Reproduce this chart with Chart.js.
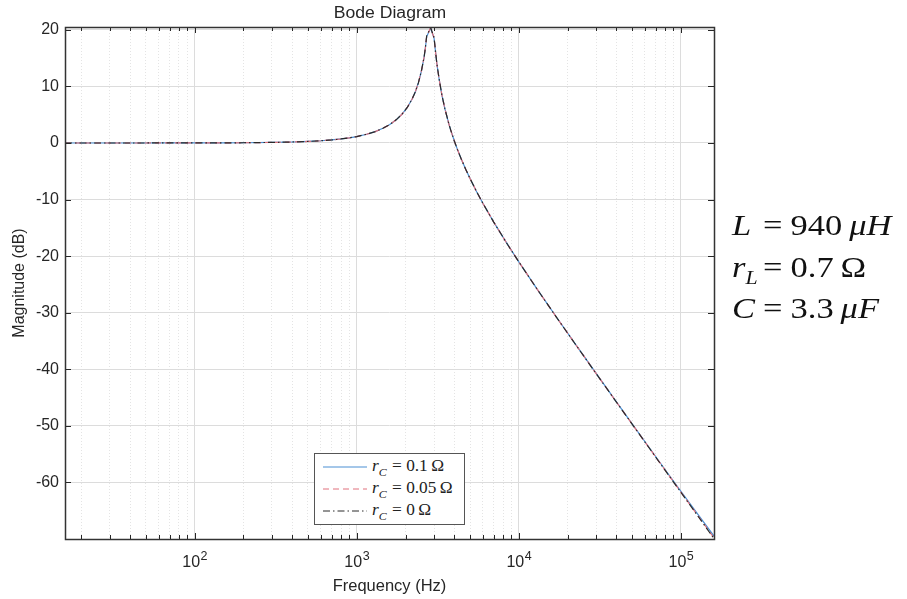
<!DOCTYPE html>
<html>
<head>
<meta charset="utf-8">
<script src="https://cdn.jsdelivr.net/npm/chart.js@4.4.1/dist/chart.umd.min.js"></script>
<style>
  body { margin:0; background:#fff; }
  #wrap { position:relative; width:907px; height:599px; background:#fff; overflow:hidden; }
  #c { position:absolute; left:0; top:0; }
  #title { position:absolute; left:289.5px; top:4px; width:200px; text-align:center;
           font-family:"Liberation Sans",Arial,sans-serif; font-size:16px; color:#262626; transform:scaleX(1.1); }
  #legend { position:absolute; left:314px; top:453px; width:149px; height:70px; border:1px solid #555;
            background:#fff; font-family:"Liberation Serif","DejaVu Serif",serif; font-size:16px; color:#222; }
  .row { position:absolute; left:8px; height:22px; display:flex; align-items:center; white-space:nowrap; }
  .row svg { margin-right:5px; }
  .row .txt { display:inline-block; transform-origin:0 50%; transform:scaleX(1.08); }
  .row sub { font-size:11px; position:relative; top:1px; }
  .rel { margin:0 4px 0 5px; }
  #params { position:absolute; left:732px; top:0; font-family:"Liberation Serif","DejaVu Serif",serif;
            font-size:30px; line-height:42px; color:#111; white-space:nowrap; transform-origin:0 0; transform:scaleX(1.15); }
  .prow { position:absolute; left:0; display:flex; align-items:baseline; }
  .lhs { display:inline-block; width:27px; }
  .eq { display:inline-block; margin-right:7px; }
  .psub { font-size:19px; position:relative; top:7px; line-height:0; }
</style>
</head>
<body>
<div id="wrap">
  <canvas id="c" width="907" height="599" style="width:907px;height:599px"></canvas>
  <div id="title">Bode Diagram</div>
  <div id="legend"></div>
  <div id="params">
    <div class="prow" style="top:204px"><span class="lhs"><i>L</i></span><span class="eq">=</span><span>940&#8201;<i>μH</i></span></div>
    <div class="prow" style="top:246px"><span class="lhs"><i>r</i><span class="psub"><i>L</i></span></span><span class="eq">=</span><span>0.7&#8201;Ω</span></div>
    <div class="prow" style="top:287px"><span class="lhs"><i>C</i></span><span class="eq">=</span><span>3.3&#8201;<i>μF</i></span></div>
  </div>
</div>
<script>
// ---- data ----
const freqHz = [15.85, 20, 30, 50, 70, 100, 150, 200, 300, 400, 500, 600, 700, 800, 900,
  1000, 1150, 1300, 1450, 1600, 1750, 1900, 2050, 2200, 2300, 2400, 2500, 2600, 2650, 2700, 2857,
  3000, 3060, 3120, 3220, 3350, 3500, 3700, 3800, 4000, 4200, 4400, 4700, 5000, 5500, 6000, 7000, 8500,
  10000, 13000, 17000, 22000, 30000, 40000, 50000, 65000, 80000, 100000, 125000, 160000];

const magRc0 = [0, 0, 0, 0, 0.01, 0.01, 0.02, 0.04, 0.10, 0.17, 0.27, 0.39, 0.54, 0.71, 0.91,
  1.13, 1.54, 2.01, 2.59, 3.27, 4.09, 5.07, 6.28, 7.81, 9.07, 10.62, 12.60, 15.09, 16.78, 18.9, 20.4,
  18.6, 16.27, 14.07, 11.37, 8.52, 6.01, 3.39, 2.28, 0.35, -1.30, -2.75, -4.64, -6.29, -8.65, -10.66, -13.98, -17.90,
  -21.02, -25.89, -30.73, -35.31, -40.77, -45.80, -49.69, -54.26, -57.88, -61.76, -65.63, -69.93];

const magRc005 = [0, 0, 0, 0, 0.01, 0.01, 0.02, 0.04, 0.10, 0.17, 0.27, 0.39, 0.54, 0.71, 0.91,
  1.13, 1.54, 2.01, 2.59, 3.27, 4.09, 5.07, 6.28, 7.81, 9.07, 10.62, 12.60, 15.08, 16.76, 18.85, 20.35,
  18.55, 16.25, 14.05, 11.36, 8.52, 6.01, 3.39, 2.28, 0.35, -1.30, -2.75, -4.64, -6.29, -8.65, -10.66, -13.98, -17.90,
  -21.02, -25.89, -30.73, -35.30, -40.76, -45.79, -49.68, -54.24, -57.85, -61.71, -65.56, -69.81];

const magRc01 = [0, 0, 0, 0, 0.01, 0.01, 0.02, 0.04, 0.10, 0.17, 0.27, 0.39, 0.54, 0.71, 0.91,
  1.13, 1.54, 2.01, 2.59, 3.27, 4.09, 5.07, 6.28, 7.81, 9.07, 10.62, 12.59, 15.06, 16.73, 18.8, 20.3,
  18.5, 16.22, 14.02, 11.35, 8.51, 6.01, 3.39, 2.28, 0.35, -1.30, -2.75, -4.64, -6.29, -8.65, -10.66, -13.98, -17.89,
  -21.01, -25.88, -30.72, -35.29, -40.74, -45.77, -49.64, -54.18, -57.76, -61.58, -65.35, -69.48];

const seriesRc = ['0.1', '0.05', '0'];
const yTickValues = [-60, -50, -40, -30, -20, -10, 0, 10, 20];
const xTickValues = [100, 1000, 10000, 100000];
const xTickBase = ['10', '10', '10', '10'];
const xTickExp = ['2', '3', '4', '5'];
const xMinorValues = [20,30,40,50,60,70,80,90, 200,300,400,500,600,700,800,900,
  2000,3000,4000,5000,6000,7000,8000,9000, 20000,30000,40000,50000,60000,70000,80000,90000];

// ---- styling ----
const seriesColors = ['#4b8fd3', '#e0707c', '#2a2a2a'];
const seriesDash = [[], [6, 4], [7, 3, 1.5, 3]];
const seriesOrder = [2, 1, 0];
const seriesMags = [magRc01, magRc005, magRc0];

const datasets = seriesMags.map((mags, i) => ({
  label: 'r_C = ' + seriesRc[i] + ' Ω',
  data: freqHz.map((f, k) => ({ x: f, y: mags[k] })),
  borderColor: seriesColors[i],
  borderDash: seriesDash[i],
  borderWidth: 1.2,
  order: seriesOrder[i],
  pointRadius: 0,
  fill: false,
  tension: 0
}));

// legend (HTML, for the subscripts)
const legend = document.getElementById('legend');
seriesRc.forEach((v, i) => {
  const row = document.createElement('div');
  row.className = 'row';
  row.style.top = (2 + i * 22) + 'px';
  const dash = seriesDash[i].length ? seriesDash[i].join(' ') : 'none';
  row.innerHTML = '<svg width="44" height="10"><line x1="0" y1="5" x2="44" y2="5" stroke="' + seriesColors[i] +
    '" stroke-width="1" stroke-dasharray="' + dash + '"/></svg>' +
    '<span class="txt"><i>r</i><sub><i>C</i></sub><span class="rel">=</span>' + v + '&#8201;Ω</span>';
  legend.appendChild(row);
});

const axisColor = '#262626';

const framePlugin = {
  id: 'frame',
  afterDraw(chart) {
    const { ctx, chartArea: { left, right, top, bottom }, scales } = chart;
    ctx.save();
    ctx.strokeStyle = axisColor;
    ctx.lineWidth = 1;
    ctx.beginPath();
    yTickValues.forEach(v => {
      const py = Math.round(scales.y.getPixelForValue(v)) + 0.5;
      ctx.moveTo(left, py); ctx.lineTo(left + 6, py);
      ctx.moveTo(right, py); ctx.lineTo(right - 6, py);
    });
    xTickValues.forEach(v => {
      const px = Math.round(scales.x.getPixelForValue(v)) + 0.5;
      ctx.moveTo(px, bottom); ctx.lineTo(px, bottom - 6);
      ctx.moveTo(px, top); ctx.lineTo(px, top + 6);
    });
    xMinorValues.forEach(v => {
      const px = Math.round(scales.x.getPixelForValue(v)) + 0.5;
      if (px < left || px > right) return;
      ctx.moveTo(px, bottom); ctx.lineTo(px, bottom - 4);
      ctx.moveTo(px, top); ctx.lineTo(px, top + 4);
    });
    ctx.stroke();
    ctx.strokeStyle = '#333';
    ctx.lineWidth = 1.5;
    ctx.strokeRect(Math.round(left) + 0.5, Math.round(top) + 0.5, Math.round(right - left), Math.round(bottom - top));

    // x tick labels with superscript exponents
    ctx.fillStyle = axisColor;
    ctx.textBaseline = 'alphabetic';
    ctx.textAlign = 'left';
    const baseFont = '16px "Liberation Sans", Arial, sans-serif';
    const expFont = '12.5px "Liberation Sans", Arial, sans-serif';
    xTickValues.forEach((v, i) => {
      const px = scales.x.getPixelForValue(v);
      ctx.font = baseFont;
      const wb = ctx.measureText(xTickBase[i]).width;
      ctx.font = expFont;
      const we = ctx.measureText(xTickExp[i]).width;
      const x0 = px - (wb + we) / 2;
      ctx.font = baseFont;
      ctx.fillText(xTickBase[i], x0, 567);
      ctx.font = expFont;
      ctx.fillText(xTickExp[i], x0 + wb + 0.5, 560);
    });
    ctx.restore();
  }
};

new Chart(document.getElementById('c'), {
  type: 'line',
  data: { datasets },
  plugins: [framePlugin],
  options: {
    responsive: false,
    animation: false,
    devicePixelRatio: 1,
    layout: { padding: { left: 0, right: 193, top: 27, bottom: 0 } },
    plugins: {
      legend: { display: false },
      tooltip: { enabled: false },
      title: { display: false }
    },
    scales: {
      x: {
        type: 'logarithmic', min: 15.85, max: 160000, position: 'bottom',
        afterBuildTicks: s => { s.ticks = xTickValues.map(v => ({ value: v })); },
        afterFit: s => { s.height = 60; },
        ticks: { display: false },
        grid: { color: '#dcdcdc', lineWidth: 1, drawTicks: false },
        border: { display: false },
        title: {
          display: true, text: 'Frequency (Hz)', color: '#262626',
          font: { family: 'Liberation Sans, Arial, sans-serif', size: 16.5 },
          padding: { top: 0, bottom: 3 }
        }
      },
      xMinor: {
        type: 'logarithmic', min: 15.85, max: 160000, position: 'bottom',
        afterBuildTicks: s => { s.ticks = xMinorValues.map(v => ({ value: v })); },
        afterFit: s => { s.height = 0; },
        ticks: { display: false },
        grid: { color: '#e4e4e4', lineWidth: 1, drawTicks: false },
        border: { display: false, dash: [1, 2] }
      },
      y: {
        type: 'linear', min: -70, max: 20.5,
        afterBuildTicks: s => { s.ticks = yTickValues.map(v => ({ value: v })); },
        afterFit: s => { s.width = 65; },
        ticks: {
          padding: 6, color: '#262626',
          font: { family: 'Liberation Sans, Arial, sans-serif', size: 16 },
          callback: v => String(v)
        },
        grid: { color: '#dcdcdc', lineWidth: 1, drawTicks: false },
        border: { display: false },
        title: {
          display: true, text: 'Magnitude (dB)', color: '#262626',
          font: { family: 'Liberation Sans, Arial, sans-serif', size: 16 },
          padding: { top: 10, bottom: 0 }
        }
      }
    }
  }
});
</script>
</body>
</html>
